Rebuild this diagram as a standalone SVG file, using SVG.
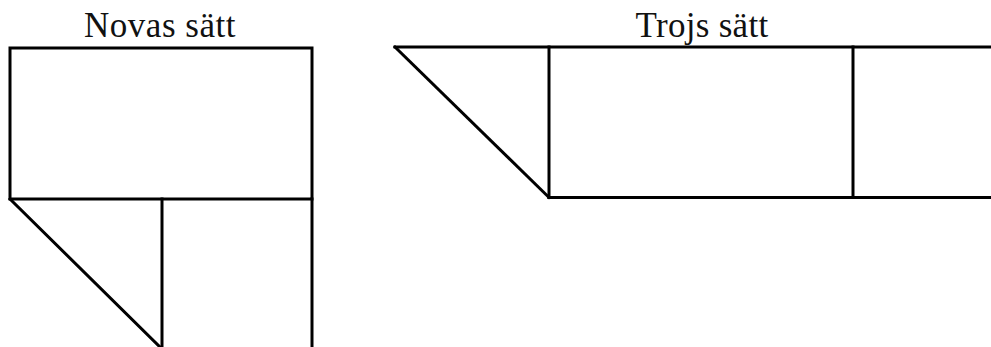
<svg xmlns="http://www.w3.org/2000/svg" width="991" height="347" viewBox="0 0 991 347">
<style>
.ln{stroke:#000;stroke-width:3;fill:none;stroke-linecap:square;stroke-linejoin:miter}
.t{font-family:"Liberation Serif","Times New Roman",serif;font-size:35px;fill:#111;text-anchor:middle}
</style>
<rect width="991" height="347" fill="#fff"/>
<g id="novas">
<text class="t" x="160" y="37" letter-spacing="0.5">Novas sätt</text>
<rect class="ln" x="10" y="48" width="302" height="151"/>
<line class="ln" x1="162" y1="199" x2="162" y2="350"/>
<line class="ln" x1="312" y1="199" x2="312" y2="350"/>
<line class="ln" x1="10" y1="199" x2="163" y2="350"/>
</g>
<g id="trojs">
<text class="t" x="702" y="37" letter-spacing="0.3">Trojs sätt</text>
<line class="ln" x1="395" y1="47" x2="995" y2="47"/>
<line class="ln" x1="549" y1="197.5" x2="995" y2="197.5"/>
<line class="ln" x1="395" y1="47" x2="549" y2="197.5"/>
<line class="ln" x1="549" y1="47" x2="549" y2="197.5"/>
<line class="ln" x1="853" y1="47" x2="853" y2="197.5"/>
</g>
</svg>
